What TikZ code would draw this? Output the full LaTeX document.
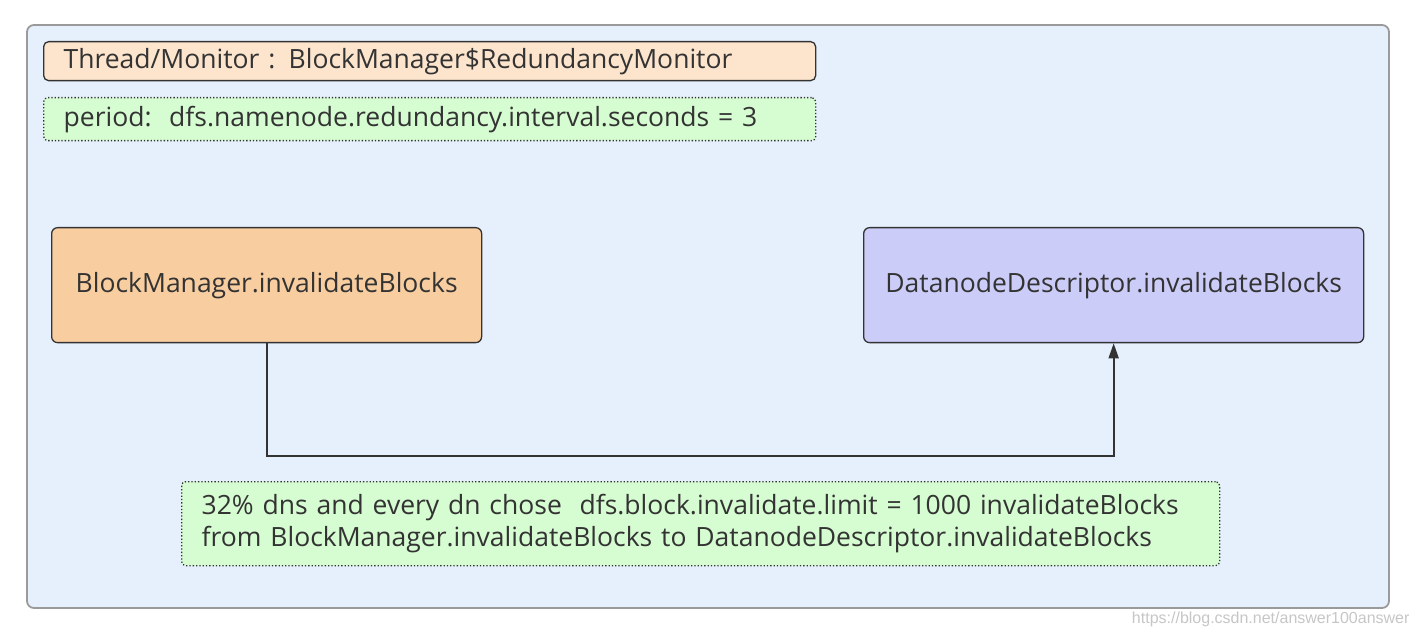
\documentclass[tikz,border=0pt]{standalone}
\usepackage{fontspec}
\setmainfont{Open Sans}
\newfontfamily\markfont{Liberation Sans}
\usetikzlibrary{arrows.meta, positioning}

\definecolor{bgblue}{HTML}{E6F0FD}
\definecolor{framegray}{HTML}{9A9A9A}
\definecolor{linegray}{HTML}{333333}
\definecolor{peach}{HTML}{FCE4CD}
\definecolor{orangefill}{HTML}{F8CDA0}
\definecolor{violetfill}{HTML}{CCCCF8}
\definecolor{notegreen}{HTML}{D6FCD1}

\begin{document}
\begin{tikzpicture}[x=1pt, y=-1pt, font=\fontsize{26.5}{32}\selectfont, text=linegray]
  \tikzset{
    framebox/.style={draw=framegray, fill=bgblue, rounded corners=7pt, line width=1.8pt},
    titlebox/.style={draw=linegray, fill=peach, rounded corners=5pt, line width=1.3pt, anchor=north west, minimum height=39pt, text width=732pt, inner xsep=20pt, align=left},
    notebox/.style={draw=linegray, dotted, fill=notegreen, rounded corners=4pt, line width=1.3pt, anchor=north west, align=left, inner xsep=20pt},
    blockbox/.style={draw=linegray, rounded corners=6pt, line width=1.3pt, anchor=north west, minimum width=430pt, minimum height=115pt}
  }
  \useasboundingbox (0,0) rectangle (1422,636);

  % outer frame
  \draw[framebox] (27,25) rectangle (1389,608);

  % header
  \node[titlebox] (thread) at (43,41) {Thread/Monitor : BlockManager\$RedundancyMonitor};
  \node[notebox, minimum height=43pt, text width=732pt] (period) at (43,97) {period:\ \ dfs.namenode.redundancy.interval.seconds = 3};

  % blocks
  \node[blockbox, fill=orangefill] (bm) at (51,227) {BlockManager.invalidateBlocks};
  \node[blockbox, fill=violetfill, minimum width=500pt] (dd) at (863,227) {DatanodeDescriptor.invalidateBlocks};

  \draw[line width=1.8pt, draw=linegray, -{Triangle[length=15pt, width=10pt]}] (bm.south) -- ++(0,113) -| (dd.south);

  % note
  \node[notebox, minimum height=84pt, text width=998pt] (note) at (181,481) {32\% dns and every dn chose\ \ dfs.block.invalidate.limit = 1000 invalidateBlocks\\from BlockManager.invalidateBlocks to DatanodeDescriptor.invalidateBlocks};

  % watermark
  \node[anchor=east, text=gray!45, font=\markfont\fontsize{16}{18}\selectfont] (mark) at (1413,619) {https://blog.csdn.net/answer100answer};
\end{tikzpicture}
\end{document}
